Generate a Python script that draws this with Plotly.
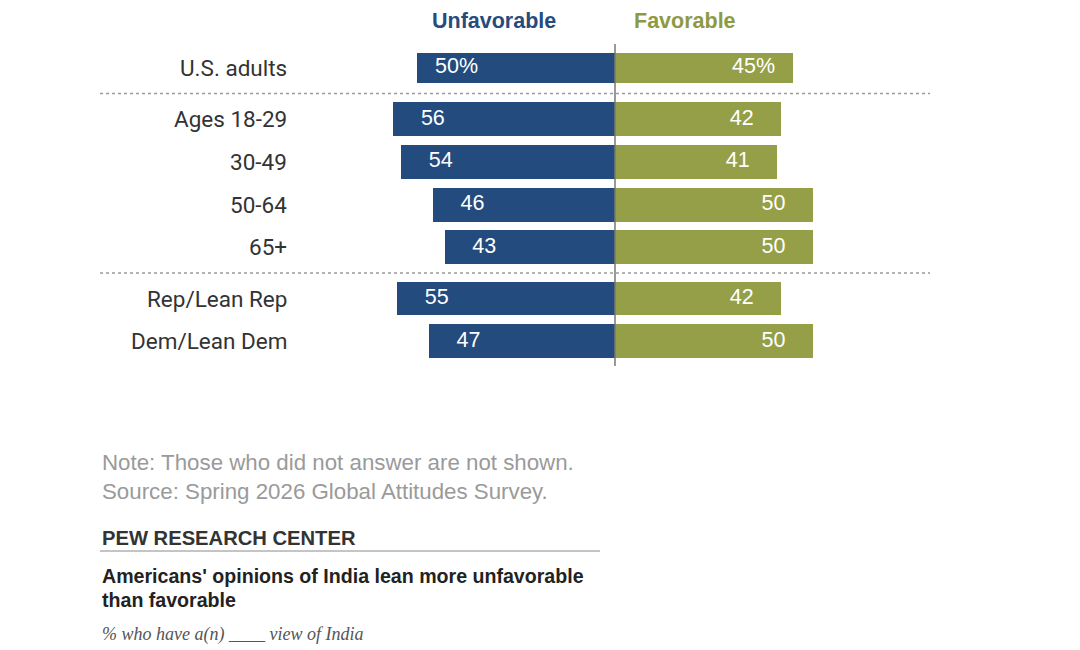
import plotly.graph_objects as go

# data
groups = [
    ["U.S. adults"],
    ["Ages 18-29", "30-49", "50-64", "65+"],
    ["Rep/Lean Rep", "Dem/Lean Dem"],
]
unfavorable = [50, 56, 54, 46, 43, 55, 47]
favorable = [45, 42, 41, 50, 50, 42, 50]
unfav_text = ["50%", "56", "54", "46", "43", "55", "47"]
fav_text = ["45%", "42", "41", "50", "50", "42", "50"]

BLUE = "#234B7E"
GREEN = "#959F48"
W, H = 1080, 650

# row positions, with a little extra space between groups
labels, ypos, widths, seps = [], [], [], []
pos = 0.0
for gi, g in enumerate(groups):
    if gi > 0:
        seps.append(pos - 1 + 0.6)
        pos += 0.2
    for name in g:
        labels.append(name)
        ypos.append(pos)
        widths.append(0.7 if gi == 0 else 0.79)
        pos += 1

px_per_unit = 3.96
x0_px = 615
row_px = 42.7
row0_px = 68

fig = go.Figure()
fig.add_trace(go.Bar(y=ypos, x=[-v for v in unfavorable], orientation="h", width=widths,
                     marker=dict(color=BLUE, line=dict(width=0)), name="Unfavorable",
                     hoverinfo="skip"))
fig.add_trace(go.Bar(y=ypos, x=favorable, orientation="h", width=widths,
                     marker=dict(color=GREEN, line=dict(width=0)), name="Favorable",
                     hoverinfo="skip"))
fig.add_trace(go.Scatter(y=ypos, x=[-(v - 10) for v in unfavorable], mode="text", text=unfav_text,
                         textfont=dict(color="white", size=21.5, family="Liberation Sans, Arial"),
                         hoverinfo="skip"))
fig.add_trace(go.Scatter(y=ypos, x=[v - 10 for v in favorable], mode="text", text=fav_text,
                         textfont=dict(color="white", size=21.5, family="Liberation Sans, Arial"),
                         hoverinfo="skip"))

# category labels
for name, y in zip(labels, ypos):
    fig.add_annotation(x=289 / W, xref="paper", y=y, yref="y", text=name, showarrow=False,
                       xanchor="right", yanchor="middle",
                       font=dict(size=22.5, color="#333333", family="Roboto, Liberation Sans"))

# dotted separators
for s in seps:
    fig.add_shape(type="line", xref="paper", x0=100 / W, x1=930 / W, yref="y", y0=s, y1=s,
                  line=dict(color="#9a9a9a", width=1.5, dash="dot"))

# center line
fig.add_shape(type="line", xref="x", x0=0, x1=0, yref="y", y0=ypos[0] - 0.56, y1=ypos[-1] + 0.58,
              line=dict(color="#777777", width=1.5))

def py(p):
    return 1 - p / H

hdr_font = "Liberation Sans, Arial"
fig.add_annotation(x=494 / W, y=py(21), xref="paper", yref="paper", text="<b>Unfavorable</b>",
                   showarrow=False, yanchor="middle", font=dict(size=21.5, color="#264C7E", family=hdr_font))
fig.add_annotation(x=685 / W, y=py(21), xref="paper", yref="paper", text="<b>Favorable</b>",
                   showarrow=False, yanchor="middle", font=dict(size=21.5, color="#8E9A42", family=hdr_font))

sans = "Liberation Sans, Arial"
foot = [
    ("Note: Those who did not answer are not shown.", 462, dict(size=22.3, color="#9a9a9a", family=sans)),
    ("Source: Spring 2026 Global Attitudes Survey.", 491, dict(size=22.3, color="#9a9a9a", family=sans)),
    ("<b>PEW RESEARCH CENTER</b>", 538, dict(size=20.2, color="#333333", family=sans)),
    ("<b>Americans' opinions of India lean more unfavorable</b>", 576, dict(size=19.6, color="#222222", family=sans)),
    ("<b>than favorable</b>", 600, dict(size=19.6, color="#222222", family=sans)),
    ("<i>% who have a(n) ____ view of India</i>", 634, dict(size=18, color="#555555", family="Liberation Serif, Georgia, serif")),
]
for txt, y, f in foot:
    fig.add_annotation(x=100 / W, y=py(y), xref="paper", yref="paper", text=txt, showarrow=False,
                       xanchor="left", yanchor="middle", font=f)

fig.add_shape(type="line", xref="paper", yref="paper", x0=100 / W, x1=600 / W, y0=py(551), y1=py(551),
              line=dict(color="#8a8a8a", width=1))

fig.update_layout(
    width=W, height=H, margin=dict(l=0, r=0, t=0, b=0),
    paper_bgcolor="white", plot_bgcolor="white",
    barmode="relative", bargap=0, showlegend=False,
    xaxis=dict(range=[-x0_px / px_per_unit, (W - x0_px) / px_per_unit], visible=False, fixedrange=True),
    yaxis=dict(range=[(H - row0_px) / row_px, -row0_px / row_px], visible=False, fixedrange=True),
)

fig.write_html("out.html", config={"displayModeBar": False},
               post_script="document.body.style.margin='0';")
